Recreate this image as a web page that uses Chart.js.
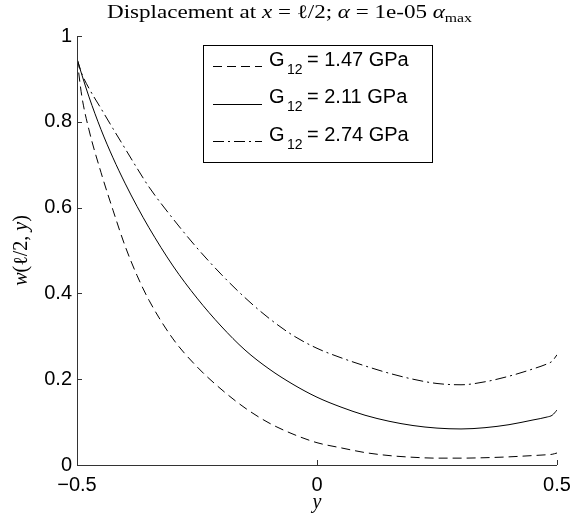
<!DOCTYPE html>
<html>
<head>
<meta charset="utf-8">
<script src="https://cdn.jsdelivr.net/npm/chart.js@4.4.0/dist/chart.umd.min.js"></script>
<style>
  html, body { margin: 0; padding: 0; background: #fff; }
  #wrap { width: 573px; height: 515px; position: relative; }
</style>
</head>
<body>
<div id="wrap"><canvas id="dispChart"></canvas></div>
<script>
// positions along y (horizontal axis of the plot)
const yPos = [-0.5, -0.49, -0.475, -0.45, -0.425, -0.4, -0.375, -0.35, -0.3, -0.25, -0.2, -0.15, -0.1, -0.05,
              0, 0.05, 0.1, 0.15, 0.2, 0.25, 0.3, 0.35, 0.4, 0.45, 0.48, 0.49, 0.5];

// w(l/2, y) for each shear modulus
const wG147 = [0.947, 0.86, 0.781, 0.682, 0.594, 0.511, 0.442, 0.384, 0.294, 0.229, 0.177, 0.133, 0.098, 0.072,
               0.052, 0.040, 0.029, 0.022, 0.018, 0.016, 0.016, 0.017, 0.019, 0.022, 0.024, 0.025, 0.028];
const wG211 = [0.947, 0.91, 0.858, 0.782, 0.716, 0.657, 0.603, 0.553, 0.464, 0.389, 0.324, 0.268, 0.224, 0.188,
               0.158, 0.135, 0.116, 0.102, 0.092, 0.086, 0.084, 0.087, 0.094, 0.105, 0.112, 0.116, 0.128];
const wG274 = [0.947, 0.912, 0.878, 0.831, 0.784, 0.738, 0.692, 0.648, 0.574, 0.506, 0.445, 0.39, 0.342, 0.302,
               0.272, 0.25, 0.231, 0.214, 0.2, 0.19, 0.187, 0.194, 0.207, 0.224, 0.236, 0.242, 0.257];

const gValues = ['1.47', '2.11', '2.74'];
const xTicks = [-0.5, 0, 0.5];
const yTicks = [0, 0.2, 0.4, 0.6, 0.8, 1];

const titleRuns = [
    { text: 'Displacement at ', italic: false },
    { text: 'x', italic: true },
    { text: ' = \u2113/2; ', italic: false },
    { text: '\u03b1', italic: true },
    { text: ' = 1e-05 ', italic: false },
    { text: '\u03b1', italic: true },
    { text: 'max', italic: false, sub: true }
];
const yLabelRuns = [
    { text: 'w', italic: true },
    { text: '(\u2113/2, ', italic: false },
    { text: 'y', italic: true },
    { text: ')', italic: false }
];

const SERIF = '"Liberation Serif", "DejaVu Serif", serif';
const SANS = '"Liberation Sans", Arial, sans-serif';

function serifFont(run, size) {
    const s = run.sub ? Math.round(size * 0.7) : size;
    return (run.italic ? 'italic ' : '') + s + 'px ' + SERIF;
}

function runsWidth(ctx, runs, size) {
    let w = 0;
    runs.forEach(r => { ctx.font = serifFont(r, size); w += ctx.measureText(r.text).width; });
    return w;
}

// draws a row of text pieces centred on x, baseline y; optional target width stretches it
function drawRuns(ctx, runs, x, y, size, targetWidth) {
    const w = runsWidth(ctx, runs, size);
    const sx = targetWidth ? targetWidth / w : 1;
    ctx.save();
    ctx.translate(x - (w * sx) / 2, y);
    ctx.scale(sx, 1);
    ctx.textAlign = 'left';
    ctx.textBaseline = 'alphabetic';
    let cx = 0;
    runs.forEach(r => {
        ctx.font = serifFont(r, size);
        ctx.fillText(r.text, cx, r.sub ? size * 0.22 : 0);
        cx += ctx.measureText(r.text).width;
    });
    ctx.restore();
}

const decorPlugin = {
    id: 'decor',
    afterDraw(chart) {
        const ctx = chart.ctx;
        const area = chart.chartArea;
        const xs = chart.scales.x;
        const ys = chart.scales.y;
        ctx.save();
        ctx.fillStyle = '#000';

        // axis lines (box off: left and bottom only)
        ctx.strokeStyle = '#333';
        ctx.lineWidth = 1;
        ctx.setLineDash([]);
        ctx.beginPath();
        ctx.moveTo(area.left + 0.5, area.top);
        ctx.lineTo(area.left + 0.5, area.bottom + 0.5);
        ctx.lineTo(area.right, area.bottom + 0.5);
        // inward ticks
        xTicks.forEach(v => {
            const px = Math.round(xs.getPixelForValue(v)) + 0.5;
            ctx.moveTo(px, area.bottom);
            ctx.lineTo(px, area.bottom - 5);
        });
        yTicks.forEach(v => {
            const py = Math.round(ys.getPixelForValue(v)) + 0.5;
            ctx.moveTo(area.left, py);
            ctx.lineTo(area.left + 5, py);
        });
        ctx.stroke();

        // title
        drawRuns(ctx, titleRuns, 289.5, 18, 19, 365);

        // axis labels
        drawRuns(ctx, [{ text: 'y', italic: true }], (area.left + area.right) / 2, 508, 20);
        ctx.save();
        ctx.translate(27, (area.top + area.bottom) / 2);
        ctx.rotate(-Math.PI / 2);
        drawRuns(ctx, yLabelRuns, 0, 0, 20);
        ctx.restore();

        // legend box
        const bx = 203.5, by = 45.5, bw = 229, bh = 117;
        ctx.fillStyle = '#fff';
        ctx.fillRect(bx, by, bw, bh);
        ctx.strokeStyle = '#000';
        ctx.strokeRect(bx, by, bw, bh);
        chart.data.datasets.forEach((ds, i) => {
            const rowY = 60 + i * 37.5;
            ctx.strokeStyle = '#000';
            ctx.lineWidth = 1;
            ctx.setLineDash(ds.borderDash || []);
            ctx.beginPath();
            ctx.moveTo(213, Math.round(rowY + 6) + 0.5);
            ctx.lineTo(262, Math.round(rowY + 6) + 0.5);
            ctx.stroke();
            ctx.setLineDash([]);
            ctx.fillStyle = '#000';
            ctx.textAlign = 'left';
            ctx.textBaseline = 'middle';
            ctx.font = '20px ' + SANS;
            ctx.fillText('G', 269, rowY);
            ctx.font = '14px ' + SANS;
            ctx.fillText('12', 287, rowY + 10);
            ctx.font = '20px ' + SANS;
            ctx.fillText('= ' + gValues[i] + ' GPa', 307, rowY);
        });
        ctx.restore();
    }
};

function toPoints(vals) {
    return yPos.map((p, i) => ({ x: p, y: vals[i] }));
}

const tickFont = { family: SANS, size: 20 };

const dispConfig = {
    type: 'line',
    data: {
        datasets: [
            { label: 'G12 = ' + gValues[0] + ' GPa', data: toPoints(wG147), borderDash: [9, 5] },
            { label: 'G12 = ' + gValues[1] + ' GPa', data: toPoints(wG211), borderDash: [] },
            { label: 'G12 = ' + gValues[2] + ' GPa', data: toPoints(wG274), borderDash: [11, 4, 2, 4] }
        ].map(d => Object.assign(d, {
            borderColor: '#000',
            borderWidth: 1,
            pointRadius: 0,
            fill: false,
            cubicInterpolationMode: 'monotone'
        }))
    },
    options: {
        responsive: true,
        maintainAspectRatio: false,
        animation: false,
        layout: { padding: { left: 0, right: 16, top: 36, bottom: 0 } },
        plugins: {
            legend: { display: false },
            title: { display: false },
            tooltip: { enabled: false }
        },
        scales: {
            x: {
                type: 'linear',
                min: -0.5,
                max: 0.5,
                afterBuildTicks: s => { s.ticks = xTicks.map(v => ({ value: v })); },
                afterFit: s => { s.height = 50; s.paddingLeft = 0; s.paddingRight = 0; },
                grid: { display: false, drawTicks: false },
                border: { display: false },
                ticks: {
                    font: tickFont,
                    color: '#000',
                    padding: 8,
                    maxRotation: 0,
                    callback: v => (v < 0 ? '\u2212' + Math.abs(v) : String(v))
                }
            },
            y: {
                type: 'linear',
                min: 0,
                max: 1,
                afterBuildTicks: s => { s.ticks = yTicks.map(v => ({ value: v })); },
                afterFit: s => { s.width = 77; s.paddingTop = 0; s.paddingBottom = 0; },
                grid: { display: false, drawTicks: false },
                border: { display: false },
                ticks: {
                    font: tickFont,
                    color: '#000',
                    padding: 5,
                    callback: v => String(Math.round(v * 10) / 10)
                }
            }
        }
    },
    plugins: [decorPlugin]
};

const dispCanvas = document.getElementById('dispChart');
if (dispCanvas) {
    new Chart(dispCanvas, dispConfig);
}
</script>
</body>
</html>
